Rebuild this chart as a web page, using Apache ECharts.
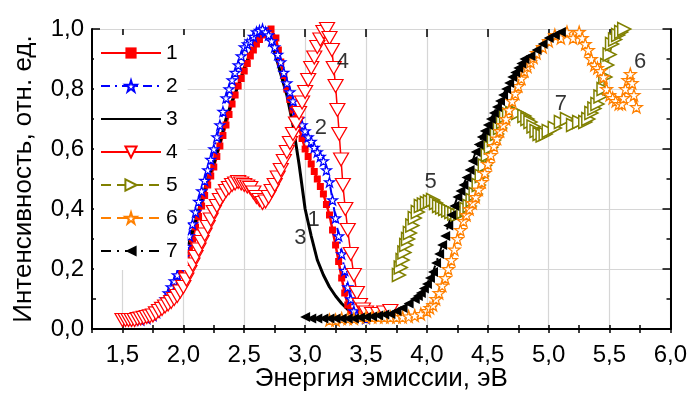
<!DOCTYPE html>
<html>
<head>
<meta charset="utf-8">
<script src="https://cdn.jsdelivr.net/npm/echarts@6/dist/echarts.min.js"></script>
<style>html,body{margin:0;padding:0;background:#fff}#c{width:690px;height:397px}</style>
</head>
<body>
<div id="c"></div>
<script>
// ---- data (x: eV, y: rel. intensity) ----
const seriesNames = ['1','2','3','4','5','6','7'];
const xTickLabels = ['1,5','2,0','2,5','3,0','3,5','4,0','4,5','5,0','5,5','6,0'];
const yTickLabels = ['0,0','0,2','0,4','0,6','0,8','1,0'];

const s1 = [[1.55,.03],[1.60,.03],[1.65,.03],[1.70,.035],[1.75,.04],[1.78,.05],[1.82,.065],[1.85,.085],[1.875,.10],[1.90,.12],[1.925,.14],[1.95,.16],[1.975,.185],[2.00,.21],[2.025,.24],[2.05,.27],[2.075,.30],[2.10,.34],[2.125,.375],[2.15,.41],[2.175,.445],[2.20,.48],[2.225,.51],[2.25,.54],[2.275,.575],[2.30,.61],[2.325,.645],[2.35,.68],[2.375,.715],[2.40,.75],[2.425,.78],[2.45,.81],[2.475,.835],[2.50,.86],[2.525,.885],[2.55,.91],[2.575,.93],[2.60,.95],[2.625,.965],[2.65,.98],[2.68,.99],[2.72,1.0],[2.76,.97],[2.78,.93],[2.80,.89],[2.825,.845],[2.85,.80],[2.875,.765],[2.90,.73],[2.925,.70],[2.95,.67],[2.975,.635],[3.00,.60],[3.025,.575],[3.05,.55],[3.075,.525],[3.10,.50],[3.125,.475],[3.15,.45],[3.175,.415],[3.20,.38],[3.225,.33],[3.25,.28],[3.275,.225],[3.30,.17],[3.325,.12],[3.35,.08],[3.375,.06],[3.40,.05],[3.45,.05],[3.50,.05],[3.55,.05],[3.60,.055],[3.65,.055],[3.70,.06]];
const s2 = [[1.60,.03],[1.65,.03],[1.70,.035],[1.75,.045],[1.78,.055],[1.82,.075],[1.85,.10],[1.875,.12],[1.90,.14],[1.925,.16],[1.95,.18],[1.975,.21],[2.00,.24],[2.025,.275],[2.05,.31],[2.075,.35],[2.10,.39],[2.125,.425],[2.15,.46],[2.175,.495],[2.20,.53],[2.225,.565],[2.25,.60],[2.275,.64],[2.30,.68],[2.325,.725],[2.35,.77],[2.375,.80],[2.40,.83],[2.425,.855],[2.45,.88],[2.475,.91],[2.50,.94],[2.525,.95],[2.55,.96],[2.575,.975],[2.60,.99],[2.625,.995],[2.65,1.0],[2.675,.99],[2.70,.98],[2.725,.96],[2.75,.94],[2.775,.915],[2.80,.89],[2.825,.855],[2.85,.82],[2.875,.79],[2.90,.76],[2.925,.73],[2.95,.70],[2.975,.68],[3.00,.66],[3.025,.64],[3.05,.625],[3.075,.605],[3.10,.59],[3.125,.575],[3.15,.56],[3.175,.53],[3.20,.49],[3.225,.43],[3.25,.37],[3.275,.31],[3.30,.25],[3.325,.195],[3.35,.14],[3.375,.10],[3.40,.06],[3.425,.045],[3.45,.04],[3.50,.035]];
const s3 = [[1.60,.03],[1.70,.035],[1.78,.05],[1.85,.09],[1.90,.13],[1.95,.17],[2.00,.22],[2.05,.29],[2.10,.36],[2.15,.43],[2.20,.50],[2.25,.55],[2.30,.62],[2.35,.70],[2.40,.76],[2.45,.81],[2.50,.87],[2.55,.92],[2.60,.95],[2.65,.99],[2.68,1.0],[2.72,.96],[2.76,.91],[2.80,.85],[2.85,.78],[2.90,.68],[2.95,.55],[3.00,.40],[3.05,.31],[3.10,.23],[3.15,.18],[3.20,.14],[3.25,.11],[3.30,.085],[3.35,.065],[3.40,.05]];
const s4 = [[1.50,.03],[1.525,.03],[1.55,.03],[1.575,.03],[1.60,.03],[1.625,.033],[1.65,.035],[1.675,.037],[1.70,.04],[1.725,.042],[1.75,.045],[1.775,.052],[1.80,.06],[1.825,.067],[1.85,.075],[1.875,.082],[1.90,.09],[1.925,.10],[1.95,.11],[1.975,.125],[2.00,.14],[2.025,.165],[2.05,.19],[2.075,.215],[2.10,.24],[2.125,.265],[2.15,.29],[2.175,.315],[2.20,.34],[2.225,.365],[2.25,.39],[2.275,.41],[2.30,.43],[2.325,.445],[2.35,.46],[2.375,.47],[2.40,.48],[2.425,.485],[2.45,.49],[2.475,.485],[2.50,.48],[2.525,.475],[2.55,.47],[2.575,.455],[2.60,.44],[2.625,.43],[2.65,.42],[2.675,.425],[2.70,.44],[2.725,.46],[2.75,.48],[2.775,.505],[2.80,.53],[2.825,.56],[2.85,.59],[2.875,.62],[2.90,.65],[2.925,.685],[2.95,.72],[2.975,.755],[3.00,.79],[3.025,.83],[3.05,.87],[3.075,.905],[3.10,.94],[3.125,.965],[3.15,.99],[3.18,1.0],[3.20,.97],[3.22,.93],[3.235,.87],[3.25,.81],[3.265,.73],[3.28,.65],[3.295,.565],[3.31,.48],[3.33,.40],[3.35,.33],[3.375,.25],[3.40,.18],[3.425,.12],[3.45,.08],[3.475,.065],[3.50,.055],[3.55,.05],[3.60,.05],[3.65,.055],[3.70,.06]];
const s5 = [[3.77,.18],[3.785,.205],[3.80,.23],[3.815,.255],[3.83,.28],[3.845,.30],[3.86,.32],[3.88,.345],[3.90,.37],[3.925,.39],[3.95,.41],[3.975,.415],[4.00,.42],[4.025,.425],[4.05,.43],[4.075,.42],[4.10,.41],[4.125,.405],[4.15,.40],[4.175,.395],[4.20,.39],[4.225,.385],[4.25,.38],[4.275,.385],[4.30,.39],[4.325,.40],[4.35,.41],[4.375,.43],[4.40,.45],[4.425,.48],[4.45,.51],[4.475,.545],[4.50,.58],[4.525,.605],[4.55,.63],[4.575,.65],[4.60,.67],[4.625,.69],[4.65,.71],[4.675,.715],[4.70,.72],[4.75,.72],[4.80,.71],[4.825,.70],[4.85,.69],[4.875,.675],[4.90,.66],[4.925,.65],[4.95,.645],[4.975,.65],[5.00,.66],[5.05,.67],[5.10,.69],[5.15,.70],[5.20,.68],[5.25,.69],[5.30,.69],[5.325,.70],[5.35,.72],[5.375,.735],[5.40,.75],[5.425,.775],[5.45,.80],[5.465,.84],[5.48,.88],[5.50,.915],[5.52,.95],[5.545,.965],[5.57,.98],[5.595,.99],[5.62,1.0]];
const s6 = [[3.20,.03],[3.25,.03],[3.30,.035],[3.35,.035],[3.40,.035],[3.45,.04],[3.50,.04],[3.55,.04],[3.60,.04],[3.65,.04],[3.70,.04],[3.75,.04],[3.80,.04],[3.85,.042],[3.90,.045],[3.95,.05],[4.00,.06],[4.025,.07],[4.05,.08],[4.075,.10],[4.10,.12],[4.125,.145],[4.15,.17],[4.175,.20],[4.20,.23],[4.225,.265],[4.25,.30],[4.275,.33],[4.30,.36],[4.325,.38],[4.35,.40],[4.375,.42],[4.40,.44],[4.425,.465],[4.45,.49],[4.475,.52],[4.50,.55],[4.525,.58],[4.55,.61],[4.575,.635],[4.60,.66],[4.625,.68],[4.65,.70],[4.675,.73],[4.70,.76],[4.725,.785],[4.75,.81],[4.775,.835],[4.80,.86],[4.825,.875],[4.85,.89],[4.875,.905],[4.90,.92],[4.95,.94],[5.00,.96],[5.05,.98],[5.10,.97],[5.15,.99],[5.20,.97],[5.25,.99],[5.275,.97],[5.30,.95],[5.325,.93],[5.35,.90],[5.375,.88],[5.40,.87],[5.425,.86],[5.45,.84],[5.475,.80],[5.50,.78],[5.525,.77],[5.55,.76],[5.575,.75],[5.60,.75],[5.615,.77],[5.63,.80],[5.65,.83],[5.67,.85],[5.685,.82],[5.70,.78],[5.72,.74]];
const s7 = [[3.00,.04],[3.05,.035],[3.10,.035],[3.15,.035],[3.20,.035],[3.25,.035],[3.30,.035],[3.35,.035],[3.40,.035],[3.45,.038],[3.50,.04],[3.55,.042],[3.60,.045],[3.65,.048],[3.70,.05],[3.75,.06],[3.80,.07],[3.85,.085],[3.90,.10],[3.925,.11],[3.95,.12],[3.975,.135],[4.00,.15],[4.025,.17],[4.05,.19],[4.075,.22],[4.10,.25],[4.125,.28],[4.15,.31],[4.175,.345],[4.20,.38],[4.225,.41],[4.25,.44],[4.275,.46],[4.30,.48],[4.325,.505],[4.35,.53],[4.375,.56],[4.40,.59],[4.425,.615],[4.45,.64],[4.475,.66],[4.50,.68],[4.525,.70],[4.55,.72],[4.575,.74],[4.60,.76],[4.625,.78],[4.65,.80],[4.675,.82],[4.70,.84],[4.725,.855],[4.75,.87],[4.775,.885],[4.80,.90],[4.85,.91],[4.90,.93],[4.95,.95],[5.00,.97],[5.05,.98],[5.10,.99]];
const annotations = [[3.07,0.365,'1'],[3.13,0.67,'2'],[2.96,0.305,'3'],[3.31,0.89,'4'],[4.03,0.49,'5'],[5.75,0.89,'6'],[5.10,0.75,'7']];

// ---- chart ----
const FONT = 'Liberation Sans, Arial, sans-serif';
const STAR = 'path://M50,0 L61,35 L98,35 L68,57 L79,91 L50,70 L21,91 L32,57 L2,35 L39,35 Z';
const GL = 92, GR = 19.5, GT = 29, GB = 64;
const W = 690 - GL - GR;
const XMIN = 1.25, XMAX = 6.0;
const pxPerUnit = W / (XMAX - XMIN);

const chart = echarts.init(document.getElementById('c'), null, {renderer: 'canvas'});

function lineSeries(name, data, o) {
  return Object.assign({
    name: name, type: 'line', data: data, xAxisIndex: 0, yAxisIndex: 0,
    showAllSymbol: true, animation: false, silent: true, clip: true
  }, o);
}

const axisBlack = {lineStyle: {color: '#000', width: 2}};
const tickStyle = {color: '#000', width: 1.5};
const option = {
  animation: false,
  backgroundColor: '#fff',
  textStyle: {fontFamily: FONT},
  grid: [
    {left: GL, right: GR, top: GT, bottom: GB},
    {left: GL + (1.5 - XMIN) * pxPerUnit, right: GR, top: GT, bottom: GB}
  ],
  xAxis: [
    {gridIndex: 0, type: 'value', position: 'bottom', min: XMIN, max: XMAX, interval: 0.25,
     axisLine: axisBlack, axisTick: {inside: true, length: 4, lineStyle: tickStyle},
     axisLabel: {show: false},
     splitLine: {show: true, lineStyle: {color: ['rgba(0,0,0,0)', '#d6d6d6'], width: 1.2}},
     name: 'Энергия эмиссии, эВ', nameLocation: 'middle', nameGap: 37,
     nameTextStyle: {fontSize: 26, color: '#000', fontFamily: FONT}},
    {gridIndex: 0, type: 'value', position: 'top', min: XMIN, max: XMAX, interval: 0.25,
     axisLine: axisBlack, axisTick: {inside: true, length: 4, lineStyle: tickStyle},
     axisLabel: {show: false}, splitLine: {show: false}},
    {gridIndex: 1, type: 'value', position: 'bottom', min: 1.5, max: XMAX, interval: 0.5,
     axisLine: {show: false}, axisTick: {inside: true, length: 8, lineStyle: tickStyle},
     axisLabel: {show: true, margin: 10, fontSize: 24, color: '#000', fontFamily: FONT,
       formatter: v => xTickLabels[Math.round((v - 1.5) / 0.5)]},
     splitLine: {show: false}},
    {gridIndex: 1, type: 'value', position: 'top', min: 1.5, max: XMAX, interval: 0.5,
     axisLine: {show: false}, axisTick: {inside: true, length: 8, lineStyle: tickStyle},
     axisLabel: {show: false}, splitLine: {show: false}}
  ],
  yAxis: [
    {gridIndex: 0, type: 'value', position: 'left', min: 0, max: 1, interval: 0.2,
     axisLine: axisBlack,
     axisTick: {inside: true, length: 8, lineStyle: tickStyle},
     minorTick: {show: true, splitNumber: 2, length: 4, lineStyle: tickStyle},
     axisLabel: {margin: 8, fontSize: 24, color: '#000', fontFamily: FONT,
       formatter: v => yTickLabels[Math.round(v / 0.2)]},
     splitLine: {show: true, lineStyle: {color: '#d6d6d6', width: 1.2}},
     name: 'Интенсивность, отн. ед.', nameLocation: 'middle', nameGap: 55, nameRotate: 90,
     nameTextStyle: {fontSize: 26, color: '#000', fontFamily: FONT}},
    {gridIndex: 0, type: 'value', position: 'right', min: 0, max: 1, interval: 0.2,
     axisLine: axisBlack,
     axisTick: {inside: true, length: 8, lineStyle: tickStyle},
     minorTick: {show: true, splitNumber: 2, length: 4, lineStyle: tickStyle},
     axisLabel: {show: false}, splitLine: {show: false}},
    {gridIndex: 1, type: 'value', min: 0, max: 1, show: false}
  ],
  legend: {
    data: seriesNames.map(n => n === '3'
      ? {name: n, itemStyle: {color: 'rgba(0,0,0,0)', borderWidth: 0, opacity: 0}}
      : {name: n}),
    orient: 'vertical', left: 94, top: 35,
    padding: [5, 10, 6, 6], backgroundColor: '#fff',
    itemWidth: 60, itemHeight: 14, itemGap: 7,
    textStyle: {fontSize: 21, color: '#000', fontFamily: FONT, lineHeight: 26},
    selectedMode: false
  },
  series: [
    lineSeries('1', s1, {symbol: 'rect', symbolSize: 7,
      itemStyle: {color: '#ff0000'}, lineStyle: {color: '#ff0000', width: 2.5}}),
    lineSeries('2', s2, {symbol: STAR, symbolSize: 10,
      itemStyle: {color: '#ffffff', borderColor: '#0000ff', borderWidth: 1.2},
      lineStyle: {color: '#0000ff', width: 2, type: [9, 5, 2, 5]}}),
    lineSeries('3', s3, {symbol: 'none',
      lineStyle: {color: '#000000', width: 3}, itemStyle: {color: '#000'}}),
    lineSeries('4', s4, {symbol: 'triangle', symbolRotate: 180, symbolSize: [15, 13],
      itemStyle: {color: '#ffffff', borderColor: '#ff0000', borderWidth: 1.2},
      lineStyle: {color: '#ff0000', width: 1.5}}),
    lineSeries('5', s5, {symbol: 'triangle', symbolRotate: -90, symbolSize: [13, 13],
      itemStyle: {color: '#ffffff', borderColor: '#808000', borderWidth: 1.5},
      lineStyle: {color: '#808000', width: 2, type: [10, 6]}}),
    lineSeries('6', s6, {symbol: STAR, symbolSize: 12,
      itemStyle: {color: '#ffffff', borderColor: '#ff8000', borderWidth: 1.2},
      lineStyle: {color: '#ff8000', width: 2, type: [10, 6]}}),
    lineSeries('7', s7, {symbol: 'triangle', symbolRotate: 90, symbolSize: [10, 10],
      itemStyle: {color: '#000000'},
      lineStyle: {color: '#000000', width: 2, type: [10, 6, 2, 6]}}),
    {name: 'labels', type: 'scatter', xAxisIndex: 0, yAxisIndex: 0, data: annotations,
     symbolSize: 1, itemStyle: {color: 'rgba(0,0,0,0)'}, silent: true, z: 5,
     label: {show: true, position: 'inside', formatter: p => p.data[2],
       fontSize: 22, color: '#000', fontFamily: FONT}}
  ]
};
chart.setOption(option);
</script>
</body>
</html>
